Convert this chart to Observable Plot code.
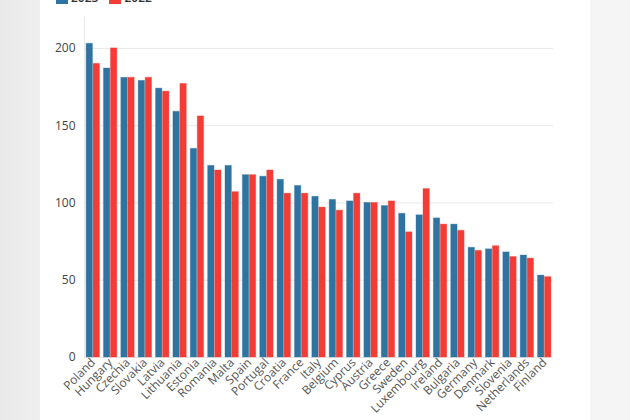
<!DOCTYPE html>
<html>
<head>
<meta charset="utf-8">
<script src="https://cdn.jsdelivr.net/npm/d3@7"></script>
<script src="https://cdn.jsdelivr.net/npm/@observablehq/plot@0.6"></script>
<style>
  html, body { margin: 0; padding: 0; width: 630px; height: 420px; overflow: hidden; font-family: "Open Sans", sans-serif; }
  body { background: linear-gradient(to right, #e9e9e9 0px, #efefef 40px, #f5f5f5 40px); position: relative; }
  #panel { position: absolute; left: 40px; top: 0; width: 550px; height: 420px; background: #fff; overflow: hidden; }
  #legend { position: absolute; left: 16px; top: -11px; display: flex; gap: 11px; font-size: 12px; color: #333; font-weight: 600; }
  #legend span.sw { display: inline-block; width: 12px; height: 11px; margin-right: 3px; vertical-align: middle; }
  #chart { position: absolute; left: 0; top: 0; }
</style>
</head>
<body>
<div id="panel">
  <div id="legend"></div>
  <div id="chart"></div>
</div>
<script>
const countries = ["Poland","Hungary","Czechia","Slovakia","Latvia","Lithuania","Estonia","Romania","Malta","Spain","Portugal","Croatia","France","Italy","Belgium","Cyprus","Austria","Greece","Sweden","Luxembourg","Ireland","Bulgaria","Germany","Denmark","Slovenia","Netherlands","Finland"];
const v2023 = [203,187,181,179,174,159,135,124,124,118,117,115,111,104,102,101,100,98,93,92,90,86,71,70,68,66,53];
const v2022 = [190,200,181,181,172,177,156,121,107,118,121,106,106,97,95,106,100,101,81,109,86,82,69,72,65,64,52];
const years = ["2023","2022"];
const colors = ["#2f74a0","#f23c35"];
const yTicks = [0,50,100,150,200];

const d23 = countries.map((c,i)=>({country:c, year:years[0], value:v2023[i]}));
const d22 = countries.map((c,i)=>({country:c, year:years[1], value:v2022[i]}));

const legend = document.getElementById("legend");
years.forEach((y,i)=>{
  const item = document.createElement("div");
  item.innerHTML = `<span class="sw" style="background:${colors[i]}"></span>${y}`;
  legend.appendChild(item);
});

const chart = Plot.plot({
  width: 550,
  height: 420,
  marginLeft: 44,
  marginRight: 37,
  marginTop: 17,
  marginBottom: 63,
  style: {fontFamily: "Open Sans", fontSize: "12px", color: "#444", background: "transparent"},
  x: {domain: countries, paddingInner: 0.23, paddingOuter: 0.12, round: false, label: null},
  y: {domain: [0,220], label: null},
  color: {domain: years, range: colors},
  marks: [
    Plot.gridY(yTicks, {stroke: "#e8e8e8", strokeOpacity: 1}),
    Plot.frame({anchor: "left", stroke: "#e8e8e8"}),
    Plot.barY(d23, {x: "country", y: "value", fill: "year", stroke: "year", strokeOpacity: 0.35, strokeWidth: 1, insetRight: 7}),
    Plot.barY(d22, {x: "country", y: "value", fill: "year", stroke: "year", strokeOpacity: 0.35, strokeWidth: 1, insetLeft: 7}),
    Plot.axisY(yTicks, {tickSize: 0, tickPadding: 9, label: null, fontSize: 12, fill: "#444"}),
    Plot.axisX({tickSize: 0, tickPadding: 3, tickRotate: -45, label: null, fontSize: 12, fill: "#555"})
  ]
});
document.getElementById("chart").appendChild(chart);
</script>
</body>
</html>
